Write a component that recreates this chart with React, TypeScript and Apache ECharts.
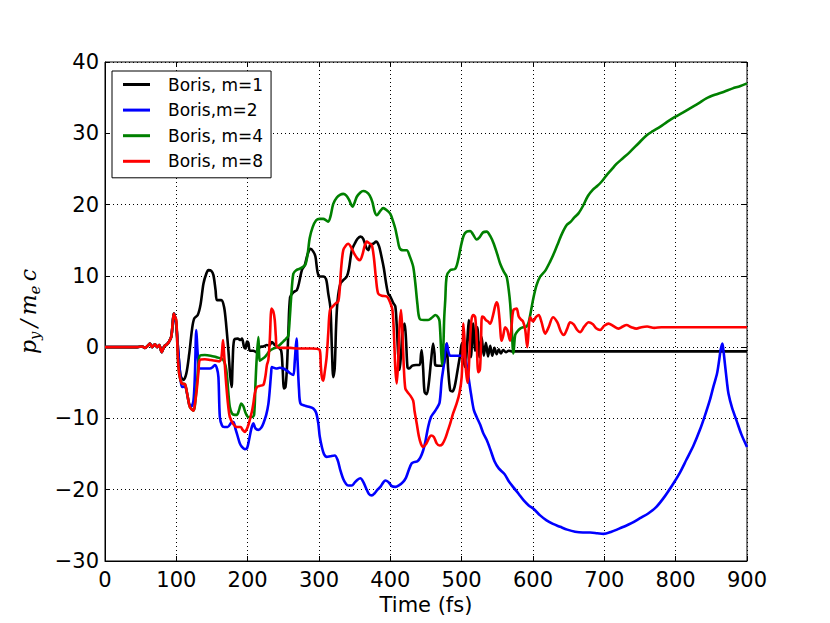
import React, { useEffect, useRef } from "react";
import * as echarts from "echarts";

// shared start (all runs coincide before ~100 fs)
const sharedStart: [number, number][] = [
  [0, 0], [45, 0], [52, 0.1], [56, -0.1], [60, 0.2], [63, 0.5], [66, 0], [70, 0.4], [73, 0],
  [76, 0.3], [79.5, -0.7], [83, 0.1], [87, 0.4], [90, 0.8], [93, 1.5], [95, 3.5], [96.5, 4.7], [98, 4.3],
];

const borisM1: [number, number][] = [
  [100, 3], [103, -1], [106, -4], [110, -4.6], [114, -3.7], [118, -1], [122, 2.5], [125, 4.0], [130, 4.5],
  [134, 6], [138, 8.9], [142, 10.3], [145, 10.8], [149, 10.7], [152, 10.1], [155, 8], [157, 6.6], [163, 6.6],
  [167, 5.6], [170, 3], [173, -0.5], [175.5, -4], [177.5, -5.6], [179, -2], [181, 1.0], [186, 1.2], [190, 1.0],
  [192, 1.2], [195, 0], [197, -0.2], [199, 0.8], [201, 0.6], [203, -0.5], [208, -0.5], [212, -0.7], [217, 0],
  [222, 0.1], [227, 0.3], [230, 0.2], [234, 0.7], [238, 0.3], [243, 0], [247, -0.5], [249, -3], [251, -5.8],
  [253, -5.6], [255, -3], [257, 2], [259.5, 7.0], [264, 7.7], [269, 8.0], [272, 9], [276, 10.8], [280, 11.5],
  [284, 13], [288, 13.8], [292, 13.4], [295, 12.7], [298, 10.5], [301, 9.9], [306, 9.9], [310, 9.5], [313, 7.5],
  [316, 5.5], [318, 0], [320, -4.2], [322, -3], [324, 3], [326, 6.5], [330, 8.9], [335, 9.5], [339, 9.9],
  [342, 11], [346, 13.6], [350, 14.5], [354, 15.2], [358, 15.5], [362, 15.2], [366, 14], [369, 13.6],
  [372, 14.4], [376, 14.5], [380, 14.8], [384, 14.2], [388, 12.5], [391, 11], [394, 9], [397, 7.5], [400, 7.1],
  [404, 6.2], [407, 5.7], [409, 3], [411, -1], [413, -3.2], [415, -1], [417, 2], [420, 3.3], [422, 1],
  [424, -2.8], [426, -3], [431, -2.6], [436, -2.5], [441, -2.5], [443, -1], [444, -0.4], [446, -3], [448, -6.3],
  [451, -6.6], [454, -5], [457, -2], [460, 0.5], [462, -1], [463, -2.5], [468, -2.6], [474, -2.6], [477, -1],
  [479, 0.5], [481, -3], [484, -6.1], [487, -6.2], [490, -5.6], [493, -4], [495, -2.8], [498, -1], [500, 0.5],
  [503, -2], [505, -2.8], [508, 1], [510, 3.8], [513, -1.4], [516, 3.3], [519, -0.5], [522, 2.8], [525, -1.4],
  [528, 1.4], [531, -1.2], [534, 0.6], [537, -1.3], [540, 0.2], [543, -1.2], [546, -0.1], [549, -1.0],
  [552, -0.3], [555, -0.9], [558, -0.4], [562, -0.7], [566, -0.5], [570, -0.6], [900, -0.6],
];

const borisM2: [number, number][] = [
  [100, 3], [103, -1], [106, -4.5], [108, -5.6], [112, -5.5], [115, -6.5], [118, -8], [121, -8.3], [124, -7.5],
  [126, -4], [128, 2.4], [130, -1], [133, -3.0], [140, -3.0], [147, -3.0], [151, -2.8], [154, -2.5], [157, -3],
  [159, -4.2], [161, -9.8], [164, -11], [167, -11.2], [172, -11.2], [177, -10.6], [180, -10.5], [183, -11.5],
  [186, -12.5], [189, -13.5], [192, -14.0], [196, -14.3], [199, -14.2], [202, -13], [205, -11.5], [208, -10.7],
  [211, -11.4], [215, -11.6], [219, -11.3], [222, -10.7], [226, -9.5], [229, -8], [231, -6], [233, -3.5],
  [234, -2.8], [240, -3.0], [245, -2.9], [250, -3.0], [255, -3.3], [260, -3.7], [264, -3.9], [266, -2],
  [268.5, 1.2], [270, -2], [272, -6], [274, -7.9], [280, -8.2], [287, -8.4], [292, -8.6], [296, -9.2],
  [299, -10.7], [301, -12.5], [304, -14.0], [307, -15], [311, -15.4], [316, -15.3], [322, -15.2], [326, -15.8],
  [330, -17.3], [334, -18.5], [338, -19.2], [341, -19.4], [346, -19.4], [350, -19.0], [354, -18.6], [358, -18.4],
  [362, -18.9], [366, -19.8], [370, -20.6], [374, -20.8], [378, -20.5], [382, -20], [386, -19.6], [390, -19.0],
  [393, -18.7], [397, -18.9], [402, -19.5], [407, -19.6], [412, -19.4], [418, -18.9], [422, -18.3], [426, -17.2],
  [430, -16.3], [434, -16.1], [438, -16.0], [442, -15.5], [446, -14.5], [449, -13.3], [453, -11.2], [457, -9.8],
  [461, -9.2], [465, -8.6], [469, -7.8], [472, -4.6], [475, -2.5], [477, -0.5], [479, 0.5], [481, -0.5],
  [484, -1.2], [491, -1.2], [498, -1.2], [504, -1.4], [507, -2.5], [510, -4.5], [513, -6.5], [517, -8.8],
  [521, -9.8], [526, -10.9], [530, -12], [535, -13.0], [540, -14.3], [546, -16.0], [552, -17], [560, -17.8],
  [566, -18.8], [572, -19.6], [580, -20.6], [587, -21.5], [594, -22.2], [601, -22.7], [610, -23.6], [619, -24.3],
  [628, -24.8], [638, -25.2], [648, -25.6], [659, -25.9], [670, -26.0], [680, -26.0], [690, -26.1], [699, -26.2],
  [710, -25.9], [720, -25.5], [727, -25.2], [738, -24.7], [750, -24.0], [762, -23.3], [773, -22.4], [785, -20.9],
  [797, -19.1], [806, -17.6], [815, -15.8], [825, -13.8], [834, -11.6], [841, -9.6], [848, -7.4], [853, -5.5],
  [858, -3.7], [861, -1.8], [863, -0.4], [865.5, 0.5], [867, -0.5], [869, -2.3], [872, -5], [874, -6.5],
  [879, -8.5], [885, -10.2], [892, -12.2], [900, -14.0],
];

const borisM4: [number, number][] = [
  [100, 3.5], [103, -2.8], [107.5, -5.1], [112, -5.2], [116, -7], [119, -8.4], [124, -8.9], [128, -6.1],
  [131, -2.5], [133, -1.2], [140, -1.1], [148, -1.2], [156, -1.4], [163, -1.6], [166, -1.8], [169, -2.6],
  [171, -4], [173, -6.5], [175, -8.4], [178, -9.3], [182, -9.5], [185, -9.5], [188, -8.8], [191, -7.9],
  [194, -8.3], [197, -9.2], [201, -9.8], [206, -9.8], [209, -9.5], [211, -5], [212.5, -1.9], [215, 1.4],
  [217, -1.9], [220, -1.7], [224, -1.4], [228, -0.9], [231, -0.5], [236, -0.2], [241, 0], [247, 0.5], [252, 1.0],
  [255, 1.3], [257, 1.6], [259, 4], [261, 7], [264, 10.3], [268, 10.8], [273, 11.0], [278, 11.3], [281, 11.6],
  [284, 13], [287, 15.3], [291, 16.8], [296, 17.8], [301, 18.0], [306, 18.0], [310, 17.8], [313, 17.6],
  [316, 18.3], [320, 20.1], [325, 21.0], [330, 21.4], [334, 21.5], [338, 21.3], [342, 20.7], [345, 20.0],
  [347, 19.7], [350, 20.3], [353, 21.1], [358, 21.7], [362, 21.9], [366, 21.8], [371, 21.3], [375, 20.3],
  [378, 19.0], [381, 18.5], [386, 19.1], [390, 19.5], [395, 19.2], [400, 18.7], [404, 17.6], [407, 16.6],
  [410, 15.2], [413, 13.9], [418, 13.6], [423, 13.6], [427, 12.8], [432, 11.3], [435, 9], [438, 6], [441, 4.0],
  [447, 3.8], [453, 3.8], [459, 4.2], [463, 4.5], [467, 4.2], [469, 3.6], [471, 0], [472.5, -2.5], [474, -1],
  [475.5, 4], [477, 6.6], [479, 9.9], [484, 10.8], [491, 11.0], [495, 12.2], [499, 14.2], [503, 15.7],
  [507, 16.2], [512, 16.3], [516, 15.8], [521, 15.1], [525, 15.4], [530, 16.1], [535, 16.2], [540, 15.6],
  [545, 14.5], [550, 13], [554, 11.7], [559, 10.6], [563, 9.9], [566, 8], [568, 6.1], [570, 3], [572.5, -0.9],
  [575, 1.7], [578, 2.2], [582, 2.6], [587, 2.8], [591, 2.9], [594, 3.5], [597, 5], [601, 7.1], [605, 8.7],
  [610, 9.9], [617, 10.7], [624, 12.0], [630, 13.3], [636, 14.8], [641, 16.0], [647, 17.1], [653, 17.6],
  [658, 18.2], [664, 18.8], [670, 19.8], [677, 21.2], [684, 22.1], [690, 22.6], [696, 23.2], [703, 24.1],
  [710, 24.9], [717, 25.7], [726, 26.5], [736, 27.4], [747, 28.5], [759, 29.7], [768, 30.3], [778, 30.9],
  [788, 31.6], [799, 32.3], [810, 32.9], [820, 33.5], [832, 34.2], [843, 34.9], [855, 35.4], [867, 35.8],
  [880, 36.3], [890, 36.6], [900, 37.0],
];

const borisM8: [number, number][] = [
  [100, 3.8], [103, -2.8], [107.5, -5.1], [112, -5.2], [116, -7], [119, -8.4], [124, -8.9], [126, -8],
  [128.5, -6.1], [131, -3.5], [133, -1.8], [140, -1.7], [148, -1.8], [155, -1.9], [160, -2], [163, -1.6],
  [165.5, 1.0], [167, -1], [169, -4], [171, -6.5], [173, -8.5], [175, -9.8], [180, -10.8], [185, -11.2],
  [190, -11.2], [193, -11.6], [196, -11.9], [200, -11.2], [203, -10.2], [206, -9], [208, -7.9], [210, -6.5],
  [213, -5.6], [218, -5.4], [222, -5.3], [225, -4], [227, -2.5], [229, -1.8], [231, 1], [233.5, 5.4], [236, 5],
  [238, 3.8], [239.5, 1.5], [241, 0], [250, -0.1], [260, -0.1], [270, -0.2], [280, -0.2], [290, -0.2],
  [301, -0.4], [302.5, -2.5], [304, -4.2], [306, -4.7], [308, -3.5], [310.7, -1.4], [313, 2], [315.4, 5.2],
  [320, 5.8], [324, 6.2], [327, 6.4], [329, 8], [331, 11], [334, 13.6], [338, 14.3], [341, 14.5], [345, 14],
  [350, 13], [354, 12.4], [357.5, 12.2], [361, 13], [364, 14.2], [367, 14.8], [370, 14.6], [374, 14.3],
  [377, 12.5], [380, 9.5], [383, 7.5], [388, 7.2], [395, 7.1], [400, 6.2], [403, 5.2], [405, 2], [407, -3],
  [409, -5.1], [411, -2], [413, 3], [415, 5.2], [417, 2], [419, -3], [421, -5.8], [424, -6.3], [428, -6.8],
  [432, -7.5], [434, -9], [437, -10.7], [440, -12.5], [443, -13.6], [446, -14.0], [450, -13.6], [454, -12.8],
  [457, -12.4], [461, -12.6], [465, -13.5], [469, -13.8], [473, -13.6], [477, -12.8], [481, -11.6],
  [484, -10.7], [488, -9.3], [493, -7.9], [497, -6.4], [500, -4.2], [501.5, 0], [502.5, 3.3], [504, 1],
  [505.5, -2.5], [507, -4.2], [508.5, -5], [510, -3], [512, 1.5], [514, 4.0], [516.5, 4.5], [519, 4.2],
  [521, 1], [523.3, -3.5], [525.5, -3.2], [527, 0], [528.5, 4.3], [531, 4.2], [534, 3.8], [537, 3.6],
  [540, 3.3], [544, 4.5], [547, 5.8], [549, 6.3], [551, 5.8], [553, 4], [556, 0.9], [558, 1.5], [561, 2.8],
  [564, 2.4], [567.8, 0.9], [570, 3], [572.5, 5.2], [577, 5.4], [580, 4.3], [583, 3.9], [586, 3.6], [589, 2.5],
  [592, 0], [594, 2.5], [596, 4.2], [600, 3.6], [604, 4.2], [608, 4.5], [612, 3.5], [617, 1.9], [622, 2.8],
  [628, 4.2], [634, 3.5], [639, 2.2], [643, 1.7], [648, 2.6], [652, 3.5], [657, 3.2], [662, 2.4], [666, 2.1],
  [672, 2.9], [678, 3.5], [684, 3.2], [689, 2.6], [694, 2.4], [700, 3.0], [706, 3.3], [712, 3.0], [720, 2.6],
  [726, 2.9], [731, 3.1], [738, 2.8], [745, 2.6], [752, 2.8], [760, 2.9], [770, 2.7], [780, 2.8], [800, 2.8],
  [900, 2.8],
];

const seriesNames = ["Boris, m=1", "Boris,m=2", "Boris, m=4", "Boris, m=8"];
const seriesColors = ["#000000", "#0000ff", "#008000", "#ff0000"];
const seriesData = [borisM1, borisM2, borisM4, borisM8];

const xMin = 0, xMax = 900, xStep = 100;
const yMin = -30, yMax = 40, yStep = 10;

const fmt = (v: number) => (v < 0 ? "\u2212" + Math.abs(v) : String(v));

export default function App() {
  const ref = useRef<HTMLDivElement>(null);
  useEffect(() => {
    if (!ref.current) return;
    const chart = echarts.init(ref.current, undefined, { renderer: "svg" });
    const font = "DejaVu Sans";
    const tick = { show: true, inside: true, length: 5, lineStyle: { color: "#000", width: 1 } };
    chart.setOption({
      animation: false,
      backgroundColor: "#fff",
      grid: { left: 105, right: 83, top: 62, bottom: 62, show: true, borderColor: "#000", borderWidth: 1, backgroundColor: "transparent" },
      legend: {
        left: 112, top: 71, orient: "vertical",
        data: seriesNames,
        icon: "rect", itemWidth: 27, itemHeight: 3, itemGap: 6.6,
        padding: [4, 8, 7, 11],
        backgroundColor: "#fff", borderColor: "#000", borderWidth: 1, borderRadius: 0,
        textStyle: { fontFamily: font, fontSize: 17, color: "#000", lineHeight: 19, padding: [0, 0, 0, 13] },
      },
      xAxis: [
        {
          type: "value", min: xMin, max: xMax, interval: xStep, position: "bottom",
          name: "Time (fs)", nameLocation: "middle", nameGap: 32,
          nameTextStyle: { fontFamily: font, fontSize: 21, color: "#000" },
          axisLine: { show: true, onZero: false, lineStyle: { color: "#000", width: 1 } },
          axisTick: tick,
          axisLabel: { fontFamily: font, fontSize: 21, color: "#000", margin: 8, formatter: fmt },
          splitLine: { show: true, lineStyle: { color: "#000", width: 1, type: [1, 3] } },
        },
        {
          type: "value", min: xMin, max: xMax, interval: xStep, position: "top",
          axisLine: { show: false, onZero: false }, axisTick: tick, axisLabel: { show: false }, splitLine: { show: false },
        },
      ],
      yAxis: [
        {
          type: "value", min: yMin, max: yMax, interval: yStep, position: "left",
          name: "{i|p}{s|y}{i|\u2009/\u2009m}{s|e}{i|\u2009c}", nameLocation: "middle", nameGap: 63, nameRotate: 90,
          nameTextStyle: {
            rich: {
              i: { fontFamily: "DejaVu Serif", fontStyle: "italic", fontSize: 22, lineHeight: 28, color: "#000" },
              s: { fontFamily: "DejaVu Serif", fontStyle: "italic", fontSize: 15, lineHeight: 16, verticalAlign: "bottom", color: "#000" },
            },
          },
          axisLine: { show: true, onZero: false, lineStyle: { color: "#000", width: 1 } },
          axisTick: tick,
          axisLabel: { fontFamily: font, fontSize: 21, color: "#000", margin: 6, formatter: fmt },
          splitLine: { show: true, lineStyle: { color: "#000", width: 1, type: [1, 3] } },
        },
        {
          type: "value", min: yMin, max: yMax, interval: yStep, position: "right",
          axisLine: { show: false, onZero: false }, axisTick: tick, axisLabel: { show: false }, splitLine: { show: false },
        },
      ],
      series: seriesNames.map((name, i) => ({
        name,
        type: "line",
        xAxisIndex: 0,
        yAxisIndex: 0,
        data: [...sharedStart, ...seriesData[i]],
        showSymbol: false,
        symbol: "none",
        smooth: 0.3,
        lineStyle: { color: seriesColors[i], width: 2.6 },
        itemStyle: { color: seriesColors[i] },
      })),
    });
    return () => chart.dispose();
  }, []);
  return <div ref={ref} style={{ width: 830, height: 623, margin: -8 }} />;
}
